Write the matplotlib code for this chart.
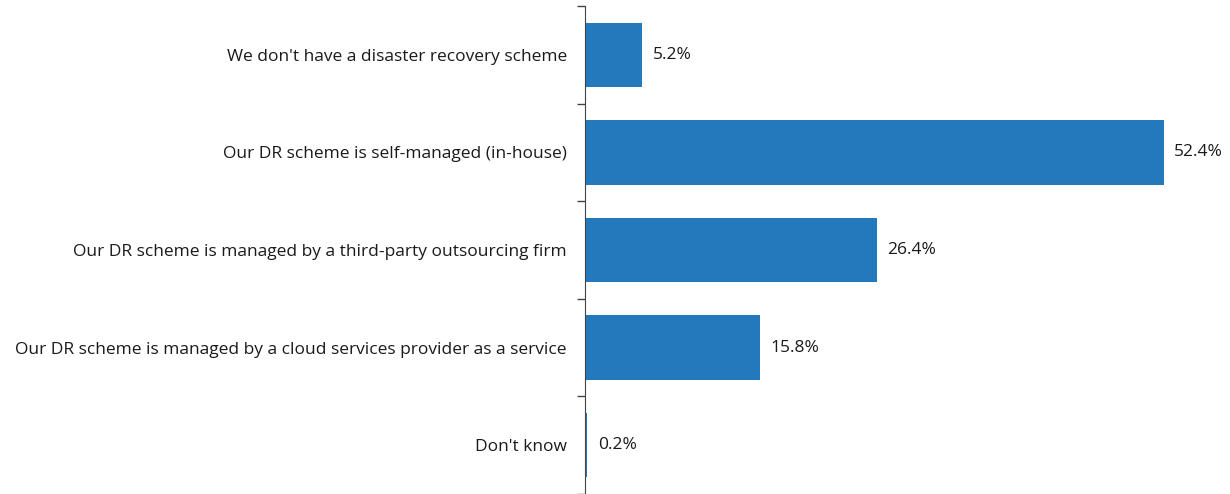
import matplotlib.pyplot as plt
import numpy as np

categories = [
    "We don't have a disaster recovery scheme",
    "Our DR scheme is self-managed (in-house)",
    "Our DR scheme is managed by a third-party outsourcing firm",
    "Our DR scheme is managed by a cloud services provider as a service",
    "Don't know",
]
values = [5.2, 52.4, 26.4, 15.8, 0.2]

plt.rcParams['font.family'] = ['Open Sans', 'DejaVu Sans']

fig = plt.figure(figsize=(12.3, 4.94), dpi=100)
ax = fig.add_axes([585 / 1230, 0.0, 1 - 585 / 1230, 1 - 6 / 494])

y = np.arange(len(categories))
ax.barh(y, values, height=0.66, color='#2479bd')
ax.set_ylim(len(categories) - 0.5, -0.5)
ax.set_xlim(0, 58.4)

for yi, v in zip(y, values):
    ax.text(v + 0.95, yi, f"{v:.1f}%", va='center', ha='left', fontsize=12.5, color='#1a1a1a')

ax.set_yticks(y)
ax.set_yticklabels(categories, fontsize=12.5, color='#1a1a1a')
ax.tick_params(axis='y', which='major', length=0, pad=13)
ax.set_yticks(np.arange(-0.5, len(categories), 1.0), minor=True)
ax.tick_params(axis='y', which='minor', length=6, width=1, color='#444444')
ax.set_xticks([])
for s in ['top', 'right', 'bottom']:
    ax.spines[s].set_visible(False)
ax.spines['left'].set_color('#444444')

fig.savefig('out.png', dpi=100)
